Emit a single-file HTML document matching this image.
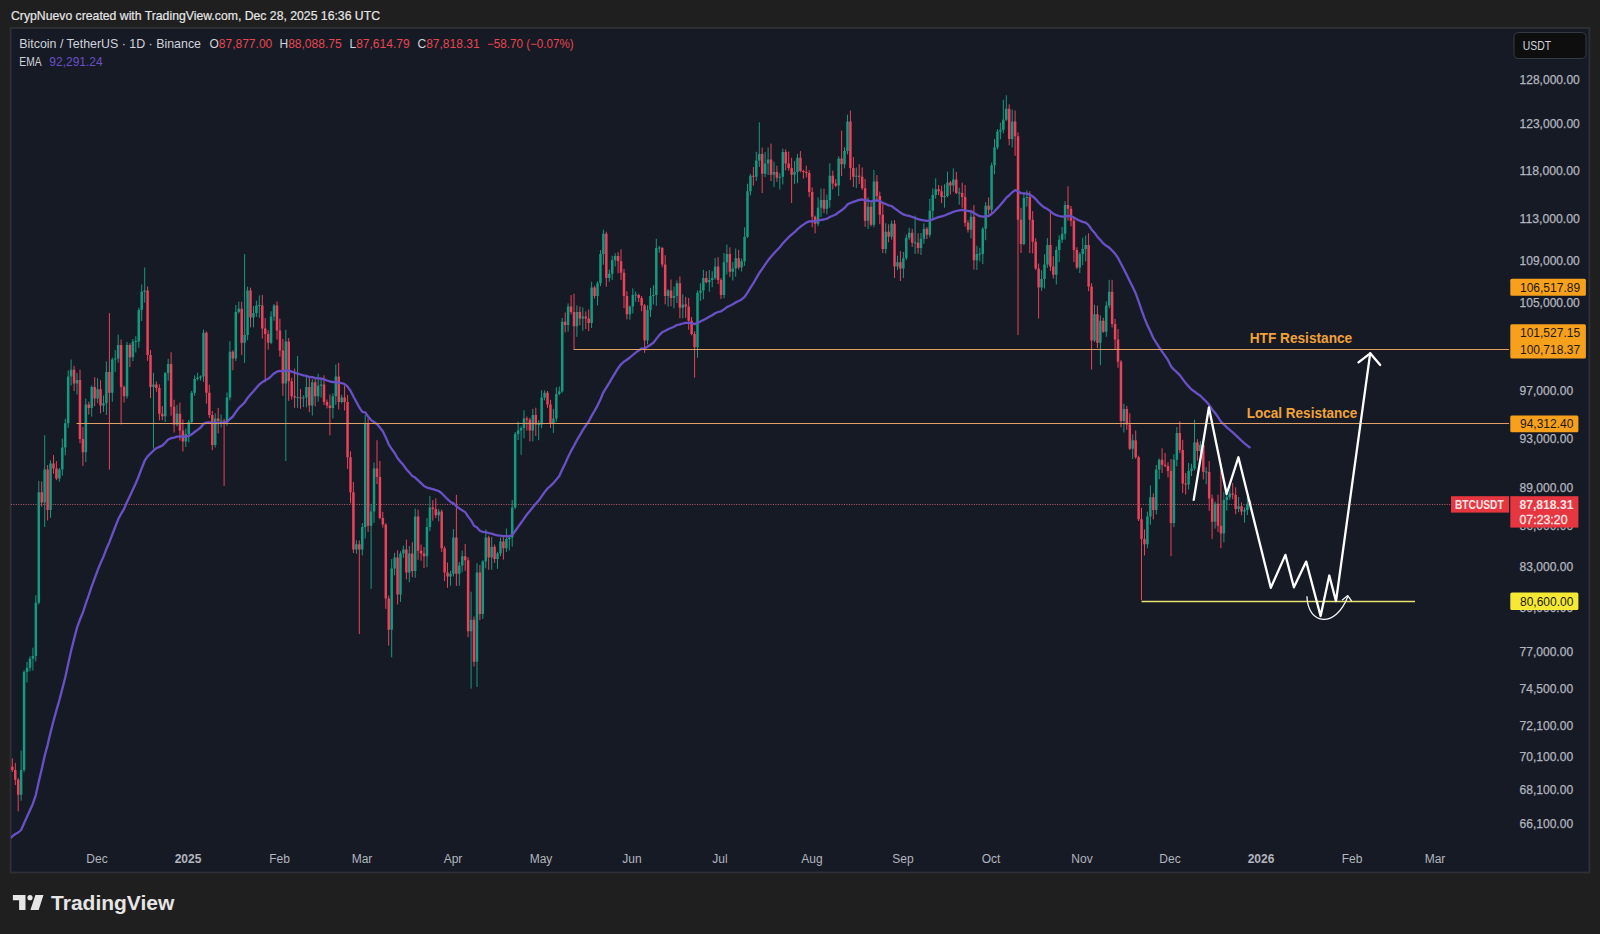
<!DOCTYPE html>
<html><head><meta charset="utf-8"><title>BTCUSDT chart</title>
<style>
html,body{margin:0;padding:0;background:#1f1f1f;width:1600px;height:934px;overflow:hidden}
</style></head><body>
<svg width="1600" height="934" viewBox="0 0 1600 934" font-family="'Liberation Sans', Arial, sans-serif" style="position:absolute;left:0;top:0"><rect x="0" y="0" width="1600" height="934" fill="#1f1f1f"/><rect x="10.6" y="27.9" width="1578.8" height="844.6" fill="#161a25" stroke="#2e3035" stroke-width="1.8"/><text x="11" y="20.4" fill="#e6e6e6" stroke="#e6e6e6" stroke-width="0.2" font-size="12.8" textLength="369" lengthAdjust="spacingAndGlyphs">CrypNuevo created with TradingView.com, Dec 28, 2025 16:36 UTC</text><clipPath id="cp"><rect x="11" y="28" width="1498" height="843"/></clipPath><g clip-path="url(#cp)"><line x1="11" y1="504.5" x2="1452" y2="504.5" stroke="#b8606c" stroke-width="1" stroke-dasharray="1 1.45"/><path d="M21.1 750.7V800.7M24.1 670.2V772.2M27.0 661.8V682.6M30.0 656.3V671.3M32.9 647.7V670.6M35.8 595.2V661.5M38.8 480.9V604.5M44.7 435.3V527.0M50.5 460.3V517.8M59.4 467.8V481.8M62.3 438.7V475.6M65.3 418.7V455.2M68.2 370.4V427.8M71.1 359.5V385.6M77.0 373.0V394.5M85.8 398.6V462.0M91.7 385.4V416.6M97.6 378.3V403.2M103.5 395.6V411.8M106.4 361.5V415.0M112.3 357.7V401.8M115.2 350.0V371.9M118.2 334.6V362.7M127.0 341.9V398.6M132.9 339.0V361.2M135.8 336.1V352.6M138.8 307.8V347.8M141.7 284.4V321.0M144.7 267.5V302.6M153.5 372.8V448.7M165.2 372.0V422.0M168.2 358.8V380.7M177.0 405.1V426.3M185.8 428.6V447.0M188.8 419.8V442.4M191.7 390.9V424.0M194.6 375.4V395.7M197.6 372.8V380.6M200.5 375.4V380.5M203.5 329.5V381.8M215.2 413.3V447.5M221.1 414.6V427.5M227.0 392.4V425.7M229.9 341.2V400.3M235.8 305.0V361.2M238.8 301.6V313.5M244.6 254.1V362.9M247.6 286.6V340.2M253.5 306.0V327.4M256.4 300.7V316.8M259.3 295.4V317.8M271.1 311.3V344.2M274.0 304.1V320.6M285.8 329.8V461.0M297.6 356.1V407.9M303.4 395.3V407.1M306.4 375.6V407.3M312.3 379.2V415.6M318.2 373.8V401.8M321.1 379.0V397.6M332.9 393.4V418.4M335.8 364.5V404.8M341.7 394.8V403.3M356.4 540.2V553.9M362.3 523.0V555.4M365.2 415.0V538.5M371.1 503.8V588.9M374.0 462.5V522.9M391.7 559.1V657.3M394.6 552.8V575.3M400.5 551.2V601.9M403.4 545.6V557.8M409.3 546.1V582.2M415.2 508.6V577.9M427.0 518.1V567.2M429.9 495.9V531.1M438.7 508.9V521.4M450.5 570.9V585.8M453.4 529.0V576.5M459.3 562.1V585.7M462.2 550.6V572.3M471.1 591.7V688.6M477.0 563.2V687.1M482.8 560.3V618.9M485.8 529.4V568.5M491.7 536.9V569.7M497.5 551.9V568.8M500.5 537.4V556.1M506.4 528.6V552.2M509.3 534.7V550.4M512.2 500.0V546.6M515.2 432.0V509.3M518.1 421.7V440.0M521.1 426.2V454.8M524.0 410.3V438.3M532.8 408.8V441.4M538.7 420.4V440.2M541.6 390.3V428.3M544.6 390.4V400.3M553.4 408.9V432.9M556.3 387.1V421.7M559.3 386.5V395.2M562.2 317.9V392.8M568.1 303.4V331.6M576.9 305.4V336.8M582.8 307.5V330.8M591.6 281.8V328.0M597.5 281.3V305.4M600.5 250.1V286.2M603.4 229.7V264.7M609.3 269.5V281.8M612.2 255.8V280.1M615.2 253.2V266.4M629.9 305.5V319.6M632.8 288.4V313.4M635.7 291.5V301.7M647.5 305.3V344.3M650.5 288.2V317.0M653.4 285.3V304.5M656.3 238.8V305.9M659.3 245.9V252.7M668.1 289.0V306.5M674.0 286.6V308.4M676.9 280.5V303.0M682.8 294.4V318.2M697.5 290.4V357.8M700.4 283.2V301.0M703.4 269.8V299.4M709.3 270.0V291.8M712.2 271.2V287.2M715.1 258.0V279.8M724.0 253.0V298.3M726.9 244.7V274.5M732.8 262.1V280.5M735.7 248.5V276.7M741.6 258.5V271.5M744.6 227.3V265.9M747.5 183.7V238.0M750.4 173.9V195.3M756.3 151.8V181.1M759.3 122.4V166.9M765.1 152.2V177.2M768.1 147.5V175.1M774.0 161.6V186.9M779.8 173.2V189.5M782.8 148.6V184.4M794.5 160.9V183.9M797.5 154.0V183.2M818.1 197.3V226.2M821.0 188.5V217.0M826.9 194.6V214.4M829.8 163.4V207.7M838.7 156.4V195.9M844.5 147.2V168.4M847.5 114.7V154.4M856.3 167.5V188.2M868.1 197.3V229.1M873.9 170.0V227.3M885.7 223.2V253.5M891.6 220.7V239.7M897.5 255.6V270.1M903.4 252.0V278.0M906.3 234.5V260.3M909.2 227.8V239.9M915.1 215.7V254.0M921.0 233.0V255.0M923.9 223.3V243.7M929.8 198.8V237.3M932.8 188.3V219.0M935.7 178.4V198.6M944.5 184.2V207.7M947.5 171.6V197.4M953.3 168.4V191.8M959.2 187.6V204.7M971.0 209.7V238.5M976.9 245.7V270.0M979.8 247.8V261.4M982.8 227.1V264.1M985.7 202.1V240.2M991.6 162.7V213.7M994.5 139.1V174.3M997.5 129.2V149.3M1000.4 122.7V139.3M1003.3 99.8V133.4M1006.3 95.3V120.9M1012.2 109.7V147.4M1023.9 193.4V245.2M1026.9 190.3V206.7M1041.6 270.2V290.8M1044.5 254.3V288.5M1047.4 238.1V267.8M1056.3 246.4V284.5M1059.2 235.4V261.9M1062.1 227.0V243.0M1065.1 201.2V239.6M1079.8 252.3V273.1M1082.7 237.8V265.2M1085.7 235.5V261.4M1094.5 304.7V342.0M1100.4 315.4V365.2M1106.3 301.3V336.8M1109.2 279.9V308.1M1123.9 403.8V432.5M1132.7 434.4V459.0M1147.4 511.7V548.4M1150.4 485.5V524.7M1156.3 464.9V514.4M1159.2 458.5V479.3M1173.9 454.3V527.1M1176.8 427.0V466.4M1188.6 462.9V489.5M1191.5 463.7V476.1M1194.5 419.8V470.4M1200.4 441.1V453.0M1206.2 467.3V484.3M1215.1 501.5V528.6M1223.9 491.8V542.3M1226.8 487.8V510.6M1229.8 484.9V499.8M1238.6 496.9V512.2M1244.5 507.3V522.6M1247.4 496.1V515.0" stroke="#149a80" stroke-width="1" fill="none"/><path d="M9.4 750.8V769.6M12.3 758.4V772.0M15.3 762.9V785.1M18.2 778.1V811.4M41.7 481.5V506.8M47.6 465.0V520.5M53.5 455.1V473.7M56.4 461.1V480.2M74.1 365.8V391.1M80.0 369.7V443.3M82.9 426.9V465.9M88.8 401.6V414.6M94.7 377.2V406.1M100.5 380.3V413.4M109.4 313.1V469.6M121.1 339.5V424.5M124.1 385.5V402.5M129.9 343.2V367.1M147.6 286.4V360.8M150.5 349.9V398.1M156.4 381.5V391.8M159.4 384.3V420.4M162.3 406.1V420.3M171.1 352.2V415.7M174.1 399.8V432.6M179.9 402.6V440.5M182.9 419.6V451.5M206.4 331.4V403.7M209.3 384.7V417.8M212.3 411.0V450.1M218.2 407.9V433.3M224.1 418.9V485.9M232.9 350.3V370.3M241.7 301.8V354.9M250.5 287.6V327.3M262.3 294.9V338.6M265.2 318.1V382.3M268.2 330.2V349.7M277.0 301.5V339.5M279.9 318.7V356.7M282.9 338.9V395.8M288.7 338.0V400.9M291.7 377.8V399.6M294.6 368.6V407.9M300.5 388.9V408.7M309.3 377.4V412.1M315.2 377.4V406.4M324.0 375.4V405.1M327.0 399.5V408.4M329.9 394.3V435.3M338.7 362.9V409.4M344.6 385.4V410.5M347.6 395.0V468.9M350.5 451.3V503.2M353.4 481.9V553.0M359.3 540.4V634.1M368.1 418.2V532.0M377.0 440.2V484.2M379.9 461.0V519.2M382.8 511.8V527.6M385.8 523.2V608.8M388.7 595.6V645.6M397.6 550.2V604.5M406.4 539.7V579.3M412.3 542.2V577.2M418.1 509.7V559.8M421.1 544.6V560.7M424.0 547.0V568.0M432.8 500.2V520.7M435.8 498.3V518.0M441.7 509.5V552.0M444.6 546.2V581.1M447.5 562.5V587.8M456.4 494.8V585.9M465.2 544.0V570.8M468.1 557.3V637.2M474.0 616.4V666.5M479.9 565.1V620.2M488.7 535.7V569.8M494.6 544.5V563.0M503.4 535.7V559.6M526.9 416.5V430.6M529.9 417.9V441.4M535.8 407.7V436.1M547.5 391.0V407.8M550.5 399.8V427.9M565.2 312.5V332.4M571.1 295.1V314.4M574.0 293.8V349.4M579.9 306.5V325.4M585.8 311.4V329.1M588.7 309.5V331.2M594.6 285.7V298.5M606.3 231.7V286.7M618.1 252.1V273.3M621.0 249.3V280.0M624.0 268.9V308.0M626.9 291.3V319.4M638.7 293.7V302.2M641.6 295.9V311.2M644.6 304.0V352.8M662.2 246.9V267.2M665.2 255.2V304.3M671.0 279.5V306.3M679.9 276.4V318.3M685.7 296.8V317.9M688.7 297.9V329.7M691.6 317.0V335.4M694.6 331.3V377.7M706.3 271.3V283.3M718.1 257.1V284.0M721.0 278.1V299.0M729.9 247.4V277.1M738.7 249.9V269.5M753.4 167.1V185.7M762.2 147.6V193.1M771.0 143.6V181.1M776.9 165.7V181.8M785.7 149.3V170.4M788.7 151.6V170.7M791.6 157.8V202.9M800.4 151.1V172.4M803.4 169.8V178.6M806.3 165.7V177.4M809.2 170.2V197.2M812.2 187.5V227.3M815.1 215.6V233.3M824.0 188.7V213.2M832.8 170.6V189.4M835.7 179.2V187.0M841.6 130.7V176.0M850.4 110.6V180.1M853.4 157.1V187.0M859.2 164.1V184.0M862.2 167.5V189.9M865.1 178.9V226.9M871.0 202.5V226.4M876.9 175.1V201.0M879.8 191.6V224.2M882.8 202.7V253.0M888.6 224.3V242.3M894.5 220.2V277.9M900.4 251.1V281.0M912.2 228.9V246.9M918.1 233.3V253.7M926.9 226.9V239.0M938.6 185.1V195.1M941.6 185.6V203.2M950.4 181.0V194.5M956.3 171.9V194.2M962.2 182.7V207.8M965.1 185.0V226.6M968.0 220.3V232.6M973.9 205.1V269.6M988.6 197.5V214.3M1009.2 104.3V145.3M1015.1 110.5V155.8M1018.0 132.4V335.0M1021.0 207.8V253.0M1029.8 191.2V253.1M1032.7 211.1V253.4M1035.7 238.2V270.1M1038.6 263.6V318.5M1050.4 209.8V271.1M1053.3 256.2V278.5M1068.0 186.3V220.7M1071.0 206.0V226.3M1073.9 217.2V262.1M1076.9 247.3V269.2M1088.6 233.3V291.2M1091.6 283.2V369.7M1097.4 305.6V348.1M1103.3 317.7V332.8M1112.1 279.8V327.5M1115.1 318.9V349.8M1118.0 329.1V367.8M1121.0 360.1V427.4M1126.8 405.8V429.8M1129.8 413.4V450.1M1135.7 430.4V458.8M1138.6 455.7V521.0M1141.5 507.8V600.0M1144.5 529.4V555.5M1153.3 493.3V519.4M1162.1 448.3V473.0M1165.1 453.0V467.3M1168.0 462.1V477.4M1171.0 459.0V556.2M1179.8 421.4V453.1M1182.7 439.8V492.9M1185.7 473.0V494.5M1197.4 439.2V460.8M1203.3 443.5V479.5M1209.2 461.1V510.9M1212.1 494.5V538.9M1218.0 494.6V531.9M1220.9 470.9V548.2M1232.7 483.0V499.2M1235.7 487.3V514.2M1241.5 502.4V515.3M1250.4 500.0V506.1" stroke="#ea425a" stroke-width="1" fill="none"/><path d="M19.89 770.1h2.5V794.7h-2.5zM22.83 672.1h2.5V770.1h-2.5zM25.77 667.7h2.5V672.1h-2.5zM28.71 658.8h2.5V667.7h-2.5zM31.65 655.9h2.5V658.8h-2.5zM34.60 602.8h2.5V655.9h-2.5zM37.54 492.2h2.5V602.8h-2.5zM43.42 469.6h2.5V502.4h-2.5zM49.30 463.4h2.5V510.1h-2.5zM58.12 469.6h2.5V478.4h-2.5zM61.06 447.5h2.5V469.6h-2.5zM64.00 423.3h2.5V447.5h-2.5zM66.94 376.6h2.5V423.3h-2.5zM69.88 369.7h2.5V376.6h-2.5zM75.77 380.0h2.5V383.5h-2.5zM84.59 404.4h2.5V452.3h-2.5zM90.47 386.9h2.5V407.9h-2.5zM96.35 389.2h2.5V398.5h-2.5zM102.23 403.2h2.5V405.6h-2.5zM105.17 372.0h2.5V403.2h-2.5zM111.05 359.5h2.5V392.7h-2.5zM113.99 358.4h2.5V359.5h-2.5zM116.93 345.0h2.5V358.4h-2.5zM125.76 345.0h2.5V396.2h-2.5zM131.64 341.6h2.5V357.3h-2.5zM134.58 341.1h2.5V342.1h-2.5zM137.52 309.9h2.5V341.6h-2.5zM140.46 291.7h2.5V309.9h-2.5zM143.40 290.6h2.5V291.7h-2.5zM152.22 384.6h2.5V386.9h-2.5zM163.99 373.1h2.5V416.2h-2.5zM166.93 364.0h2.5V373.1h-2.5zM175.75 413.8h2.5V424.5h-2.5zM184.57 434.1h2.5V441.4h-2.5zM187.51 422.1h2.5V434.1h-2.5zM190.45 392.7h2.5V422.1h-2.5zM193.39 378.9h2.5V392.7h-2.5zM196.33 377.7h2.5V378.9h-2.5zM199.27 376.6h2.5V377.7h-2.5zM202.22 332.8h2.5V376.6h-2.5zM213.98 418.6h2.5V445.0h-2.5zM219.86 420.4h2.5V421.4h-2.5zM225.74 397.4h2.5V421.5h-2.5zM228.68 351.7h2.5V397.4h-2.5zM234.56 312.0h2.5V358.4h-2.5zM237.50 308.8h2.5V312.0h-2.5zM243.38 335.0h2.5V342.7h-2.5zM246.33 290.6h2.5V335.0h-2.5zM252.21 313.1h2.5V317.5h-2.5zM255.15 305.6h2.5V313.1h-2.5zM258.09 305.1h2.5V306.1h-2.5zM269.85 316.4h2.5V342.7h-2.5zM272.79 305.6h2.5V316.4h-2.5zM284.55 341.6h2.5V383.5h-2.5zM296.32 396.9h2.5V397.9h-2.5zM302.20 397.4h2.5V398.5h-2.5zM305.14 386.9h2.5V397.4h-2.5zM311.02 382.3h2.5V405.6h-2.5zM316.90 385.8h2.5V396.2h-2.5zM319.84 384.6h2.5V385.8h-2.5zM331.61 396.2h2.5V407.9h-2.5zM334.55 376.6h2.5V396.2h-2.5zM340.43 397.4h2.5V402.0h-2.5zM355.13 544.2h2.5V549.5h-2.5zM361.01 527.0h2.5V549.5h-2.5zM363.95 423.3h2.5V527.0h-2.5zM369.84 511.4h2.5V525.7h-2.5zM372.78 468.4h2.5V511.4h-2.5zM390.42 568.4h2.5V629.7h-2.5zM393.36 557.5h2.5V568.4h-2.5zM399.24 553.5h2.5V594.5h-2.5zM402.18 549.5h2.5V553.5h-2.5zM408.06 553.5h2.5V572.4h-2.5zM413.95 516.6h2.5V571.1h-2.5zM425.71 527.0h2.5V556.2h-2.5zM428.65 507.6h2.5V527.0h-2.5zM437.47 511.4h2.5V515.3h-2.5zM449.23 573.8h2.5V576.5h-2.5zM452.17 537.6h2.5V573.8h-2.5zM458.06 565.6h2.5V573.8h-2.5zM461.00 556.2h2.5V565.6h-2.5zM469.82 619.7h2.5V631.2h-2.5zM475.70 572.4h2.5V661.7h-2.5zM481.58 561.6h2.5V614.1h-2.5zM484.52 537.6h2.5V561.6h-2.5zM490.40 546.8h2.5V557.5h-2.5zM496.29 553.5h2.5V558.9h-2.5zM499.23 541.5h2.5V553.5h-2.5zM505.11 538.9h2.5V548.2h-2.5zM508.05 537.6h2.5V538.9h-2.5zM510.99 507.6h2.5V537.6h-2.5zM513.93 434.1h2.5V507.6h-2.5zM516.87 430.5h2.5V434.1h-2.5zM519.81 428.1h2.5V430.5h-2.5zM522.75 418.6h2.5V428.1h-2.5zM531.57 415.0h2.5V430.5h-2.5zM537.46 424.0h2.5V425.0h-2.5zM540.40 397.4h2.5V424.5h-2.5zM543.34 392.7h2.5V397.4h-2.5zM552.16 418.6h2.5V423.3h-2.5zM555.10 393.9h2.5V418.6h-2.5zM558.04 391.6h2.5V393.9h-2.5zM560.98 321.8h2.5V391.6h-2.5zM566.86 306.6h2.5V325.1h-2.5zM575.68 312.0h2.5V326.2h-2.5zM581.57 316.4h2.5V318.5h-2.5zM590.39 287.4h2.5V322.9h-2.5zM596.27 283.2h2.5V295.9h-2.5zM599.21 254.1h2.5V283.2h-2.5zM602.15 233.7h2.5V254.1h-2.5zM608.03 273.8h2.5V278.0h-2.5zM610.97 260.3h2.5V273.8h-2.5zM613.91 256.1h2.5V260.3h-2.5zM628.62 306.6h2.5V314.2h-2.5zM631.56 294.9h2.5V306.6h-2.5zM634.50 294.4h2.5V295.4h-2.5zM646.26 309.9h2.5V340.5h-2.5zM649.20 295.9h2.5V309.9h-2.5zM652.14 294.9h2.5V295.9h-2.5zM655.08 247.9h2.5V294.9h-2.5zM658.02 247.4h2.5V248.4h-2.5zM666.85 290.6h2.5V295.9h-2.5zM672.73 295.9h2.5V298.1h-2.5zM675.67 283.2h2.5V295.9h-2.5zM681.55 304.5h2.5V307.7h-2.5zM696.25 292.7h2.5V347.2h-2.5zM699.19 290.6h2.5V292.7h-2.5zM702.13 278.0h2.5V290.6h-2.5zM708.02 280.1h2.5V282.2h-2.5zM710.96 278.0h2.5V280.1h-2.5zM713.90 266.5h2.5V278.0h-2.5zM722.72 262.3h2.5V294.9h-2.5zM725.66 254.1h2.5V262.3h-2.5zM731.54 268.6h2.5V271.7h-2.5zM734.48 258.2h2.5V268.6h-2.5zM740.36 261.3h2.5V267.5h-2.5zM743.30 236.8h2.5V261.3h-2.5zM746.24 191.2h2.5V236.8h-2.5zM749.19 175.7h2.5V191.2h-2.5zM755.07 160.5h2.5V176.7h-2.5zM758.01 153.9h2.5V160.5h-2.5zM763.89 163.4h2.5V173.8h-2.5zM766.83 159.6h2.5V163.4h-2.5zM772.71 171.9h2.5V174.8h-2.5zM778.59 176.7h2.5V177.7h-2.5zM781.53 152.0h2.5V176.7h-2.5zM793.30 171.9h2.5V174.8h-2.5zM796.24 157.7h2.5V171.9h-2.5zM816.82 207.8h2.5V223.7h-2.5zM819.76 199.9h2.5V207.8h-2.5zM825.64 199.9h2.5V208.8h-2.5zM828.58 175.7h2.5V199.9h-2.5zM837.41 158.6h2.5V185.4h-2.5zM843.29 151.1h2.5V164.3h-2.5zM846.23 121.5h2.5V151.1h-2.5zM855.05 175.7h2.5V176.7h-2.5zM866.81 206.8h2.5V220.7h-2.5zM872.69 181.5h2.5V224.7h-2.5zM884.46 231.7h2.5V249.0h-2.5zM890.34 223.7h2.5V236.8h-2.5zM896.22 262.3h2.5V266.5h-2.5zM902.10 258.2h2.5V268.6h-2.5zM905.04 237.8h2.5V258.2h-2.5zM907.98 232.7h2.5V237.8h-2.5zM913.86 242.3h2.5V243.3h-2.5zM919.75 238.8h2.5V247.9h-2.5zM922.69 228.7h2.5V238.8h-2.5zM928.57 210.8h2.5V234.7h-2.5zM931.51 195.1h2.5V210.8h-2.5zM934.45 189.2h2.5V195.1h-2.5zM943.27 196.0h2.5V197.0h-2.5zM946.21 182.5h2.5V196.0h-2.5zM952.09 179.6h2.5V185.4h-2.5zM957.98 192.6h2.5V193.6h-2.5zM969.74 216.7h2.5V229.7h-2.5zM975.62 254.1h2.5V260.3h-2.5zM978.56 253.6h2.5V254.6h-2.5zM981.50 228.7h2.5V254.1h-2.5zM984.44 205.8h2.5V228.7h-2.5zM990.32 165.3h2.5V209.8h-2.5zM993.26 147.4h2.5V165.3h-2.5zM996.20 131.6h2.5V147.4h-2.5zM999.14 129.8h2.5V131.6h-2.5zM1002.09 119.7h2.5V129.8h-2.5zM1005.03 108.8h2.5V119.7h-2.5zM1010.91 121.5h2.5V139.0h-2.5zM1022.67 198.0h2.5V243.9h-2.5zM1025.61 197.0h2.5V198.0h-2.5zM1040.31 279.0h2.5V287.4h-2.5zM1043.26 264.4h2.5V279.0h-2.5zM1046.20 244.9h2.5V264.4h-2.5zM1055.02 250.0h2.5V274.8h-2.5zM1057.96 239.8h2.5V250.0h-2.5zM1060.90 233.7h2.5V239.8h-2.5zM1063.84 204.9h2.5V233.7h-2.5zM1078.54 254.1h2.5V267.5h-2.5zM1081.48 249.0h2.5V254.1h-2.5zM1084.43 244.9h2.5V249.0h-2.5zM1093.25 314.2h2.5V340.5h-2.5zM1099.13 320.7h2.5V342.7h-2.5zM1105.01 305.6h2.5V331.7h-2.5zM1107.95 291.7h2.5V305.6h-2.5zM1122.65 409.1h2.5V420.9h-2.5zM1131.48 440.2h2.5V448.7h-2.5zM1146.18 516.6h2.5V544.2h-2.5zM1149.12 497.3h2.5V516.6h-2.5zM1155.00 469.6h2.5V510.1h-2.5zM1157.94 459.7h2.5V469.6h-2.5zM1172.65 459.7h2.5V523.1h-2.5zM1175.59 432.9h2.5V459.7h-2.5zM1187.35 470.9h2.5V484.6h-2.5zM1190.29 468.4h2.5V470.9h-2.5zM1193.23 442.6h2.5V468.4h-2.5zM1199.11 445.0h2.5V451.1h-2.5zM1204.99 471.6h2.5V472.6h-2.5zM1213.82 503.7h2.5V521.8h-2.5zM1222.64 499.9h2.5V533.6h-2.5zM1225.58 497.3h2.5V499.9h-2.5zM1228.52 493.5h2.5V497.3h-2.5zM1237.34 506.3h2.5V508.9h-2.5zM1243.22 510.1h2.5V511.4h-2.5zM1246.16 503.7h2.5V510.1h-2.5z" fill="#149a80"/><path d="M8.13 755.5h2.5V766.8h-2.5zM11.07 766.8h2.5V770.1h-2.5zM14.01 770.1h2.5V779.8h-2.5zM16.95 779.8h2.5V794.7h-2.5zM40.48 492.2h2.5V502.4h-2.5zM46.36 469.6h2.5V510.1h-2.5zM52.24 463.4h2.5V468.4h-2.5zM55.18 468.4h2.5V478.4h-2.5zM72.82 369.7h2.5V383.5h-2.5zM78.71 380.0h2.5V439.0h-2.5zM81.65 439.0h2.5V452.3h-2.5zM87.53 404.4h2.5V407.9h-2.5zM93.41 386.9h2.5V398.5h-2.5zM99.29 389.2h2.5V405.6h-2.5zM108.11 372.0h2.5V392.7h-2.5zM119.88 345.0h2.5V386.9h-2.5zM122.82 386.9h2.5V396.2h-2.5zM128.70 345.0h2.5V357.3h-2.5zM146.34 290.6h2.5V355.0h-2.5zM149.28 355.0h2.5V386.9h-2.5zM155.16 384.6h2.5V388.1h-2.5zM158.10 388.1h2.5V413.8h-2.5zM161.05 413.8h2.5V416.2h-2.5zM169.87 364.0h2.5V406.7h-2.5zM172.81 406.7h2.5V424.5h-2.5zM178.69 413.8h2.5V430.5h-2.5zM181.63 430.5h2.5V441.4h-2.5zM205.16 332.8h2.5V392.7h-2.5zM208.10 392.7h2.5V415.0h-2.5zM211.04 415.0h2.5V445.0h-2.5zM216.92 418.6h2.5V420.9h-2.5zM222.80 420.7h2.5V421.7h-2.5zM231.62 351.7h2.5V358.4h-2.5zM240.44 308.8h2.5V342.7h-2.5zM249.27 290.6h2.5V317.5h-2.5zM261.03 305.6h2.5V328.4h-2.5zM263.97 328.4h2.5V333.9h-2.5zM266.91 333.9h2.5V342.7h-2.5zM275.73 305.6h2.5V330.6h-2.5zM278.67 330.6h2.5V350.5h-2.5zM281.61 350.5h2.5V383.5h-2.5zM287.50 341.6h2.5V381.2h-2.5zM290.44 381.2h2.5V396.2h-2.5zM293.38 396.2h2.5V397.4h-2.5zM299.26 397.4h2.5V398.5h-2.5zM308.08 386.9h2.5V405.6h-2.5zM313.96 382.3h2.5V396.2h-2.5zM322.78 384.6h2.5V402.0h-2.5zM325.72 402.0h2.5V405.6h-2.5zM328.67 405.6h2.5V407.9h-2.5zM337.49 376.6h2.5V402.0h-2.5zM343.37 397.4h2.5V402.0h-2.5zM346.31 402.0h2.5V457.3h-2.5zM349.25 457.3h2.5V492.2h-2.5zM352.19 492.2h2.5V549.5h-2.5zM358.07 544.2h2.5V549.5h-2.5zM366.89 423.3h2.5V525.7h-2.5zM375.72 468.4h2.5V477.1h-2.5zM378.66 477.1h2.5V517.9h-2.5zM381.60 517.9h2.5V524.4h-2.5zM384.54 524.4h2.5V598.6h-2.5zM387.48 598.6h2.5V629.7h-2.5zM396.30 557.5h2.5V594.5h-2.5zM405.12 549.5h2.5V572.4h-2.5zM411.00 553.5h2.5V571.1h-2.5zM416.89 516.6h2.5V550.8h-2.5zM419.83 550.8h2.5V553.5h-2.5zM422.77 553.5h2.5V556.2h-2.5zM431.59 507.6h2.5V508.9h-2.5zM434.53 508.9h2.5V515.3h-2.5zM440.41 511.4h2.5V548.2h-2.5zM443.35 548.2h2.5V572.4h-2.5zM446.29 572.4h2.5V576.5h-2.5zM455.12 537.6h2.5V573.8h-2.5zM463.94 556.2h2.5V560.2h-2.5zM466.88 560.2h2.5V631.2h-2.5zM472.76 619.7h2.5V661.7h-2.5zM478.64 572.4h2.5V614.1h-2.5zM487.46 537.6h2.5V557.5h-2.5zM493.34 546.8h2.5V558.9h-2.5zM502.17 541.5h2.5V548.2h-2.5zM525.69 418.6h2.5V419.8h-2.5zM528.63 419.8h2.5V430.5h-2.5zM534.51 415.0h2.5V424.5h-2.5zM546.28 392.7h2.5V404.4h-2.5zM549.22 404.4h2.5V423.3h-2.5zM563.92 321.8h2.5V325.1h-2.5zM569.80 306.6h2.5V312.0h-2.5zM572.74 312.0h2.5V326.2h-2.5zM578.62 312.0h2.5V318.5h-2.5zM584.51 316.4h2.5V318.5h-2.5zM587.45 318.5h2.5V322.9h-2.5zM593.33 287.4h2.5V295.9h-2.5zM605.09 233.7h2.5V278.0h-2.5zM616.85 256.1h2.5V261.3h-2.5zM619.79 261.3h2.5V272.7h-2.5zM622.74 272.7h2.5V295.9h-2.5zM625.68 295.9h2.5V314.2h-2.5zM637.44 294.9h2.5V298.1h-2.5zM640.38 298.1h2.5V305.6h-2.5zM643.32 305.6h2.5V340.5h-2.5zM660.96 247.9h2.5V264.4h-2.5zM663.91 264.4h2.5V295.9h-2.5zM669.79 290.6h2.5V298.1h-2.5zM678.61 283.2h2.5V307.7h-2.5zM684.49 304.5h2.5V306.6h-2.5zM687.43 306.6h2.5V320.7h-2.5zM690.37 320.7h2.5V333.9h-2.5zM693.31 333.9h2.5V347.2h-2.5zM705.07 278.0h2.5V282.2h-2.5zM716.84 266.5h2.5V280.1h-2.5zM719.78 280.1h2.5V294.9h-2.5zM728.60 254.1h2.5V271.7h-2.5zM737.42 258.2h2.5V267.5h-2.5zM752.13 175.7h2.5V176.7h-2.5zM760.95 153.9h2.5V173.8h-2.5zM769.77 159.6h2.5V174.8h-2.5zM775.65 171.9h2.5V177.7h-2.5zM784.47 152.0h2.5V163.4h-2.5zM787.41 163.4h2.5V168.1h-2.5zM790.36 168.1h2.5V174.8h-2.5zM799.18 157.7h2.5V171.0h-2.5zM802.12 170.9h2.5V171.9h-2.5zM805.06 171.9h2.5V172.9h-2.5zM808.00 172.9h2.5V192.1h-2.5zM810.94 192.1h2.5V216.7h-2.5zM813.88 216.7h2.5V223.7h-2.5zM822.70 199.9h2.5V208.8h-2.5zM831.53 175.7h2.5V183.4h-2.5zM834.47 183.4h2.5V185.4h-2.5zM840.35 158.6h2.5V164.3h-2.5zM849.17 121.5h2.5V168.1h-2.5zM852.11 168.1h2.5V176.7h-2.5zM857.99 175.7h2.5V176.7h-2.5zM860.93 176.7h2.5V188.3h-2.5zM863.87 188.3h2.5V220.7h-2.5zM869.75 206.8h2.5V224.7h-2.5zM875.64 181.5h2.5V196.0h-2.5zM878.58 196.0h2.5V214.7h-2.5zM881.52 214.7h2.5V249.0h-2.5zM887.40 231.7h2.5V236.8h-2.5zM893.28 223.7h2.5V266.5h-2.5zM899.16 262.3h2.5V268.6h-2.5zM910.92 232.7h2.5V242.8h-2.5zM916.81 242.8h2.5V247.9h-2.5zM925.63 228.7h2.5V234.7h-2.5zM937.39 189.2h2.5V191.2h-2.5zM940.33 191.2h2.5V197.0h-2.5zM949.15 182.5h2.5V185.4h-2.5zM955.03 179.6h2.5V193.1h-2.5zM960.92 193.1h2.5V197.0h-2.5zM963.86 197.0h2.5V222.7h-2.5zM966.80 222.7h2.5V229.7h-2.5zM972.68 216.7h2.5V260.3h-2.5zM987.38 205.8h2.5V209.8h-2.5zM1007.97 108.8h2.5V139.0h-2.5zM1013.85 121.5h2.5V136.2h-2.5zM1016.79 136.2h2.5V219.7h-2.5zM1019.73 219.7h2.5V243.9h-2.5zM1028.55 197.0h2.5V219.7h-2.5zM1031.49 219.7h2.5V241.8h-2.5zM1034.43 241.8h2.5V268.6h-2.5zM1037.37 268.6h2.5V287.4h-2.5zM1049.14 244.9h2.5V266.5h-2.5zM1052.08 266.5h2.5V274.8h-2.5zM1066.78 204.9h2.5V208.8h-2.5zM1069.72 208.8h2.5V220.7h-2.5zM1072.66 220.7h2.5V250.0h-2.5zM1075.60 250.0h2.5V267.5h-2.5zM1087.37 244.9h2.5V286.4h-2.5zM1090.31 286.4h2.5V340.5h-2.5zM1096.19 314.2h2.5V342.7h-2.5zM1102.07 320.7h2.5V331.7h-2.5zM1110.89 291.7h2.5V324.0h-2.5zM1113.83 324.0h2.5V339.4h-2.5zM1116.77 339.4h2.5V361.8h-2.5zM1119.71 361.8h2.5V420.9h-2.5zM1125.60 409.1h2.5V424.5h-2.5zM1128.54 424.5h2.5V448.7h-2.5zM1134.42 440.2h2.5V457.3h-2.5zM1137.36 457.3h2.5V519.2h-2.5zM1140.30 519.2h2.5V538.9h-2.5zM1143.24 538.9h2.5V544.2h-2.5zM1152.06 497.3h2.5V510.1h-2.5zM1160.88 459.7h2.5V464.7h-2.5zM1163.82 464.7h2.5V465.9h-2.5zM1166.76 465.9h2.5V470.9h-2.5zM1169.71 470.9h2.5V523.1h-2.5zM1178.53 432.9h2.5V449.9h-2.5zM1181.47 449.9h2.5V483.4h-2.5zM1184.41 483.4h2.5V484.6h-2.5zM1196.17 442.6h2.5V451.1h-2.5zM1202.05 445.0h2.5V472.1h-2.5zM1207.93 472.1h2.5V498.6h-2.5zM1210.88 498.6h2.5V521.8h-2.5zM1216.76 503.7h2.5V525.7h-2.5zM1219.70 525.7h2.5V533.6h-2.5zM1231.46 493.5h2.5V494.8h-2.5zM1234.40 494.8h2.5V508.9h-2.5zM1240.28 506.3h2.5V511.4h-2.5zM1249.10 502.6h2.5V503.6h-2.5z" fill="#ea425a"/><polyline points="9.4,839.1 12.3,836.3 15.3,834.0 18.2,832.5 21.1,830.0 24.1,823.3 27.0,816.8 30.0,810.2 32.9,803.7 35.8,795.1 38.8,781.6 41.7,769.2 44.7,755.8 47.6,745.1 50.5,732.6 53.5,721.0 56.4,710.4 59.4,700.0 62.3,688.9 65.3,677.2 68.2,663.8 71.1,650.7 74.1,638.9 77.0,627.6 80.0,619.5 82.9,612.5 85.8,603.6 88.8,595.2 91.7,586.3 94.7,578.3 97.6,570.3 100.5,563.3 103.5,556.6 106.4,548.8 109.4,542.2 112.3,534.5 115.2,527.0 118.2,519.3 121.1,513.8 124.1,508.9 127.0,502.0 129.9,496.0 132.9,489.5 135.8,483.3 138.8,476.0 141.7,468.2 144.7,460.7 147.6,456.3 150.5,453.5 153.5,450.7 156.4,448.2 159.4,446.9 162.3,445.6 165.2,442.7 168.2,439.5 171.1,438.2 174.1,437.7 177.0,436.7 179.9,436.5 182.9,436.7 185.8,436.6 188.8,436.0 191.7,434.3 194.6,432.0 197.6,429.9 200.5,427.7 203.5,423.8 206.4,422.6 209.3,422.3 212.3,423.2 215.2,423.0 218.2,422.9 221.1,422.9 224.1,422.8 227.0,421.8 229.9,419.0 232.9,416.5 235.8,412.2 238.8,408.0 241.7,405.4 244.6,402.5 247.6,397.9 250.5,394.6 253.5,391.3 256.4,387.8 259.3,384.5 262.3,382.2 265.2,380.3 268.2,378.8 271.1,376.3 274.0,373.4 277.0,371.7 279.9,370.9 282.9,371.4 285.8,370.2 288.7,370.6 291.7,371.6 294.6,372.6 297.6,373.6 300.5,374.5 303.4,375.4 306.4,375.9 309.3,377.0 312.3,377.2 315.2,378.0 318.2,378.3 321.1,378.5 324.0,379.4 327.0,380.5 329.9,381.5 332.9,382.1 335.8,381.9 338.7,382.7 341.7,383.2 344.6,384.0 347.6,386.7 350.5,390.7 353.4,396.5 356.4,402.0 359.3,407.4 362.3,411.9 365.2,412.3 368.1,416.5 371.1,420.1 374.0,422.0 377.0,424.1 379.9,427.6 382.8,431.3 385.8,437.4 388.7,444.3 391.7,449.0 394.6,453.0 397.6,458.2 400.5,461.8 403.4,465.1 406.4,469.2 409.3,472.4 412.3,476.1 415.2,477.6 418.1,480.4 421.1,483.2 424.0,486.0 427.0,487.6 429.9,488.3 432.8,489.1 435.8,490.1 438.7,491.0 441.7,493.2 444.6,496.2 447.5,499.2 450.5,502.0 453.4,503.4 456.4,506.1 459.3,508.4 462.2,510.2 465.2,512.1 468.1,516.6 471.1,520.4 474.0,525.7 477.0,527.5 479.9,530.7 482.8,531.9 485.8,532.1 488.7,533.1 491.7,533.7 494.6,534.6 497.5,535.4 500.5,535.6 503.4,536.1 506.4,536.2 509.3,536.3 512.2,535.1 515.2,531.0 518.1,526.9 521.1,522.8 524.0,518.6 526.9,514.5 529.9,511.1 532.8,507.2 535.8,503.8 538.7,500.6 541.6,496.4 544.6,492.1 547.5,488.5 550.5,485.9 553.4,483.2 556.3,479.6 559.3,476.0 562.2,469.5 565.2,463.5 568.1,456.9 571.1,450.9 574.0,445.7 576.9,440.1 579.9,435.1 582.8,430.2 585.8,425.6 588.7,421.4 591.6,415.9 594.6,410.9 597.5,405.6 600.5,399.3 603.4,392.3 606.3,387.6 609.3,382.9 612.2,377.8 615.2,372.8 618.1,368.2 621.0,364.3 624.0,361.6 626.9,359.7 629.9,357.5 632.8,355.0 635.7,352.6 638.7,350.4 641.6,348.6 644.6,348.3 647.5,346.8 650.5,344.7 653.4,342.7 656.3,338.9 659.3,335.1 662.2,332.3 665.2,330.8 668.1,329.2 671.0,328.0 674.0,326.7 676.9,325.0 679.9,324.3 682.8,323.5 685.7,322.8 688.7,322.8 691.6,323.2 694.6,324.1 697.5,322.9 700.4,321.6 703.4,319.9 706.3,318.4 709.3,316.8 712.2,315.3 715.1,313.3 718.1,312.0 721.0,311.3 724.0,309.4 726.9,307.1 729.9,305.7 732.8,304.2 735.7,302.4 738.7,301.0 741.6,299.4 744.6,296.9 747.5,292.6 750.4,287.8 753.4,283.2 756.3,278.1 759.3,273.0 762.2,268.9 765.1,264.6 768.1,260.3 771.0,256.8 774.0,253.3 776.9,250.3 779.8,247.3 782.8,243.4 785.7,240.2 788.7,237.2 791.6,234.7 794.5,232.2 797.5,229.2 800.4,226.8 803.4,224.6 806.3,222.6 809.2,221.4 812.2,221.2 815.1,221.3 818.1,220.7 821.0,219.9 824.0,219.5 826.9,218.7 829.8,217.0 832.8,215.7 835.7,214.5 838.7,212.2 841.6,210.3 844.5,207.9 847.5,204.4 850.4,203.0 853.4,201.9 856.3,200.9 859.2,199.9 862.2,199.5 865.1,200.3 868.1,200.5 871.0,201.5 873.9,200.7 876.9,200.5 879.8,201.1 882.8,202.9 885.7,204.0 888.6,205.3 891.6,206.0 894.5,208.3 897.5,210.4 900.4,212.6 903.4,214.4 906.3,215.3 909.2,215.9 912.2,217.0 915.1,218.0 918.1,219.2 921.0,219.9 923.9,220.3 926.9,220.8 929.8,220.4 932.8,219.4 935.7,218.2 938.6,217.1 941.6,216.4 944.5,215.5 947.5,214.2 950.4,213.1 953.3,211.8 956.3,211.0 959.2,210.3 962.2,209.8 965.1,210.3 968.0,211.0 971.0,211.3 973.9,213.1 976.9,214.7 979.8,216.2 982.8,216.7 985.7,216.3 988.6,216.0 991.6,214.0 994.5,211.3 997.5,208.1 1000.4,204.9 1003.3,201.4 1006.3,197.7 1009.2,195.3 1012.2,192.3 1015.1,190.1 1018.0,191.2 1021.0,193.2 1023.9,193.4 1026.9,193.6 1029.8,194.6 1032.7,196.4 1035.7,199.1 1038.6,202.5 1041.6,205.4 1044.5,207.6 1047.4,209.1 1050.4,211.3 1053.3,213.7 1056.3,215.1 1059.2,216.0 1062.1,216.7 1065.1,216.3 1068.0,216.0 1071.0,216.2 1073.9,217.5 1076.9,219.4 1079.8,220.7 1082.7,221.8 1085.7,222.7 1088.6,225.1 1091.6,229.5 1094.5,232.7 1097.4,236.8 1100.4,240.0 1103.3,243.4 1106.3,245.8 1109.2,247.6 1112.1,250.5 1115.1,253.8 1118.0,257.9 1121.0,263.8 1123.9,269.2 1126.8,274.9 1129.8,281.2 1132.7,287.1 1135.7,293.3 1138.6,301.3 1141.5,309.8 1144.5,318.1 1147.4,325.2 1150.4,331.5 1153.3,338.0 1156.3,342.9 1159.2,347.3 1162.1,351.6 1165.1,355.9 1168.0,360.2 1171.0,366.2 1173.9,369.7 1176.8,372.1 1179.8,375.1 1182.7,379.1 1185.7,383.1 1188.6,386.4 1191.5,389.5 1194.5,391.5 1197.4,393.8 1200.4,395.8 1203.3,398.7 1206.2,401.5 1209.2,405.1 1212.1,409.5 1215.1,413.0 1218.0,417.2 1220.9,421.6 1223.9,424.5 1226.8,427.3 1229.8,429.8 1232.7,432.3 1235.7,435.2 1238.6,437.9 1241.5,440.7 1244.5,443.4 1247.4,445.7 1250.4,447.9" fill="none" stroke="#6a50c6" stroke-width="2.3" stroke-linejoin="round"/><line x1="76.5" y1="423.5" x2="1510" y2="423.5" stroke="#e3a066" stroke-width="1.1"/><line x1="573.7" y1="349.5" x2="1510" y2="349.5" stroke="#e3a066" stroke-width="1.1"/><line x1="1141.5" y1="601.5" x2="1415" y2="601.5" stroke="#e8e070" stroke-width="1.3"/><text x="1249.7" y="342.8" fill="#f0a33a" font-size="14" font-weight="700" textLength="102.5" lengthAdjust="spacingAndGlyphs">HTF Resistance</text><text x="1246.7" y="418.2" fill="#f0a33a" font-size="14" font-weight="700" textLength="110.6" lengthAdjust="spacingAndGlyphs">Local Resistance</text><polyline points="1193.7,499.9 1208.9,407.5 1226.6,494 1238.4,457.3 1270.8,587.8 1285.4,554.9 1293.9,587.3 1306.2,561.6 1320.6,616 1329.3,575.5 1336,601.1 1370.2,353.3" fill="none" stroke="#ffffff" stroke-width="2.3" stroke-linejoin="round" stroke-linecap="round"/><polyline points="1358.5,362.3 1370.2,353.3 1380.2,365" fill="none" stroke="#ffffff" stroke-width="2.3" stroke-linejoin="round" stroke-linecap="round"/><path d="M1306.9 596.3 C1308 626 1336 628 1347.8 596.5" fill="none" stroke="#f4f4f4" stroke-width="1.3"/><polyline points="1342,600.3 1347.8,595.6 1351.7,601.1" fill="none" stroke="#f4f4f4" stroke-width="1.3" stroke-linejoin="round"/></g><text x="19.3" y="48.3" fill="#d1d4dc" font-size="12.6" textLength="181.7" lengthAdjust="spacingAndGlyphs">Bitcoin / TetherUS · 1D · Binance</text><text x="209.5" y="48.3" font-size="12"><tspan fill="#d1d4dc">O</tspan><tspan fill="#e8464f">87,877.00</tspan></text><text x="279.5" y="48.3" font-size="12"><tspan fill="#d1d4dc">H</tspan><tspan fill="#e8464f">88,088.75</tspan></text><text x="349.5" y="48.3" font-size="12"><tspan fill="#d1d4dc">L</tspan><tspan fill="#e8464f">87,614.79</tspan></text><text x="417.5" y="48.3" font-size="12"><tspan fill="#d1d4dc">C</tspan><tspan fill="#e8464f">87,818.31</tspan></text><text x="487" y="48.3" fill="#e8464f" font-size="12" textLength="86.7" lengthAdjust="spacingAndGlyphs">−58.70 (−0.07%)</text><text x="19.3" y="65.8" fill="#d1d4dc" font-size="12.3" textLength="22.3" lengthAdjust="spacingAndGlyphs">EMA</text><text x="49.3" y="65.8" fill="#6a50c6" font-size="12">92,291.24</text><rect x="1514" y="32.5" width="72" height="26" rx="4" fill="#0e0e0f" stroke="#363a45" stroke-width="1"/><text x="1522.7" y="49.5" fill="#d1d4dc" font-size="12.3" textLength="28.3" lengthAdjust="spacingAndGlyphs">USDT</text><text x="1519.5" y="83.8" fill="#b2b5be" stroke="#b2b5be" stroke-width="0.25" font-size="12.2" textLength="60.3" lengthAdjust="spacingAndGlyphs">128,000.00</text><text x="1519.5" y="128.0" fill="#b2b5be" stroke="#b2b5be" stroke-width="0.25" font-size="12.2" textLength="60.3" lengthAdjust="spacingAndGlyphs">123,000.00</text><text x="1519.5" y="174.7" fill="#b2b5be" stroke="#b2b5be" stroke-width="0.25" font-size="12.2" textLength="60.3" lengthAdjust="spacingAndGlyphs">118,000.00</text><text x="1519.5" y="223.1" fill="#b2b5be" stroke="#b2b5be" stroke-width="0.25" font-size="12.2" textLength="60.3" lengthAdjust="spacingAndGlyphs">113,000.00</text><text x="1519.5" y="264.7" fill="#b2b5be" stroke="#b2b5be" stroke-width="0.25" font-size="12.2" textLength="60.3" lengthAdjust="spacingAndGlyphs">109,000.00</text><text x="1519.5" y="306.8" fill="#b2b5be" stroke="#b2b5be" stroke-width="0.25" font-size="12.2" textLength="60.3" lengthAdjust="spacingAndGlyphs">105,000.00</text><text x="1519.5" y="395.4" fill="#b2b5be" stroke="#b2b5be" stroke-width="0.25" font-size="12.2" textLength="53.6" lengthAdjust="spacingAndGlyphs">97,000.00</text><text x="1519.5" y="442.9" fill="#b2b5be" stroke="#b2b5be" stroke-width="0.25" font-size="12.2" textLength="53.6" lengthAdjust="spacingAndGlyphs">93,000.00</text><text x="1519.5" y="492.0" fill="#b2b5be" stroke="#b2b5be" stroke-width="0.25" font-size="12.2" textLength="53.6" lengthAdjust="spacingAndGlyphs">89,000.00</text><text x="1519.5" y="530.4" fill="#b2b5be" stroke="#b2b5be" stroke-width="0.25" font-size="12.2" textLength="53.6" lengthAdjust="spacingAndGlyphs">86,000.00</text><text x="1519.5" y="571.0" fill="#b2b5be" stroke="#b2b5be" stroke-width="0.25" font-size="12.2" textLength="53.6" lengthAdjust="spacingAndGlyphs">83,000.00</text><text x="1519.5" y="612.4" fill="#b2b5be" stroke="#b2b5be" stroke-width="0.25" font-size="12.2" textLength="53.6" lengthAdjust="spacingAndGlyphs">80,000.00</text><text x="1519.5" y="655.8" fill="#b2b5be" stroke="#b2b5be" stroke-width="0.25" font-size="12.2" textLength="53.6" lengthAdjust="spacingAndGlyphs">77,000.00</text><text x="1519.5" y="692.8" fill="#b2b5be" stroke="#b2b5be" stroke-width="0.25" font-size="12.2" textLength="53.6" lengthAdjust="spacingAndGlyphs">74,500.00</text><text x="1519.5" y="729.7" fill="#b2b5be" stroke="#b2b5be" stroke-width="0.25" font-size="12.2" textLength="53.6" lengthAdjust="spacingAndGlyphs">72,100.00</text><text x="1519.5" y="761.0" fill="#b2b5be" stroke="#b2b5be" stroke-width="0.25" font-size="12.2" textLength="53.6" lengthAdjust="spacingAndGlyphs">70,100.00</text><text x="1519.5" y="794.2" fill="#b2b5be" stroke="#b2b5be" stroke-width="0.25" font-size="12.2" textLength="53.6" lengthAdjust="spacingAndGlyphs">68,100.00</text><text x="1519.5" y="827.7" fill="#b2b5be" stroke="#b2b5be" stroke-width="0.25" font-size="12.2" textLength="53.6" lengthAdjust="spacingAndGlyphs">66,100.00</text><rect x="1510.3" y="278.7" width="75.6" height="17" rx="1.5" fill="#f7a01c"/><text x="1520" y="291.5" fill="#1e1a12" font-size="12">106,517.89</text><rect x="1510.3" y="324.3" width="75.6" height="34.3" rx="1.5" fill="#f7a01c"/><text x="1520" y="337" fill="#1e1a12" font-size="12">101,527.15</text><text x="1520" y="354" fill="#1e1a12" font-size="12">100,718.37</text><rect x="1510.3" y="415.5" width="68.1" height="16.7" rx="1.5" fill="#f7a01c"/><text x="1520" y="428" fill="#1e1a12" font-size="12">94,312.40</text><rect x="1510.3" y="592.6" width="68.1" height="17.4" rx="1.5" fill="#f6e934"/><text x="1520" y="605.5" fill="#1a1a10" font-size="12">80,600.00</text><rect x="1451" y="496.2" width="58" height="16.4" fill="#e6363f"/><text x="1455" y="509" fill="#fde6e8" font-size="12.5" font-weight="700" textLength="48.6" lengthAdjust="spacingAndGlyphs">BTCUSDT</text><rect x="1510.3" y="496.2" width="68.1" height="31.4" fill="#e6363f"/><text x="1519.5" y="509" fill="#fde6e8" font-size="12" font-weight="700" textLength="54" lengthAdjust="spacingAndGlyphs">87,818.31</text><text x="1519.5" y="524" fill="#fde6e8" stroke="#fde6e8" stroke-width="0.3" font-size="12" textLength="48" lengthAdjust="spacingAndGlyphs">07:23:20</text><text x="97" y="862.5" fill="#b2b5be" font-size="12" text-anchor="middle">Dec</text><text x="188" y="862.5" fill="#b2b5be" font-size="12" text-anchor="middle" font-weight="700">2025</text><text x="279.5" y="862.5" fill="#b2b5be" font-size="12" text-anchor="middle">Feb</text><text x="362" y="862.5" fill="#b2b5be" font-size="12" text-anchor="middle">Mar</text><text x="453" y="862.5" fill="#b2b5be" font-size="12" text-anchor="middle">Apr</text><text x="541" y="862.5" fill="#b2b5be" font-size="12" text-anchor="middle">May</text><text x="632" y="862.5" fill="#b2b5be" font-size="12" text-anchor="middle">Jun</text><text x="720" y="862.5" fill="#b2b5be" font-size="12" text-anchor="middle">Jul</text><text x="812" y="862.5" fill="#b2b5be" font-size="12" text-anchor="middle">Aug</text><text x="903" y="862.5" fill="#b2b5be" font-size="12" text-anchor="middle">Sep</text><text x="991" y="862.5" fill="#b2b5be" font-size="12" text-anchor="middle">Oct</text><text x="1082" y="862.5" fill="#b2b5be" font-size="12" text-anchor="middle">Nov</text><text x="1170" y="862.5" fill="#b2b5be" font-size="12" text-anchor="middle">Dec</text><text x="1261" y="862.5" fill="#b2b5be" font-size="12" text-anchor="middle" font-weight="700">2026</text><text x="1352" y="862.5" fill="#b2b5be" font-size="12" text-anchor="middle">Feb</text><text x="1435" y="862.5" fill="#b2b5be" font-size="12" text-anchor="middle">Mar</text><g fill="#e6e6e6"><path d="M12.9 895.1H25.5V910H19.1V900.2H12.9Z"/><circle cx="30" cy="897.7" r="2.6"/><path d="M35.4 895.1H43.5L38.7 910H30.4Z"/></g><text x="51.1" y="910" fill="#e6e6e6" font-size="21" font-weight="700" textLength="123.2" lengthAdjust="spacingAndGlyphs">TradingView</text></svg>
</body></html>
